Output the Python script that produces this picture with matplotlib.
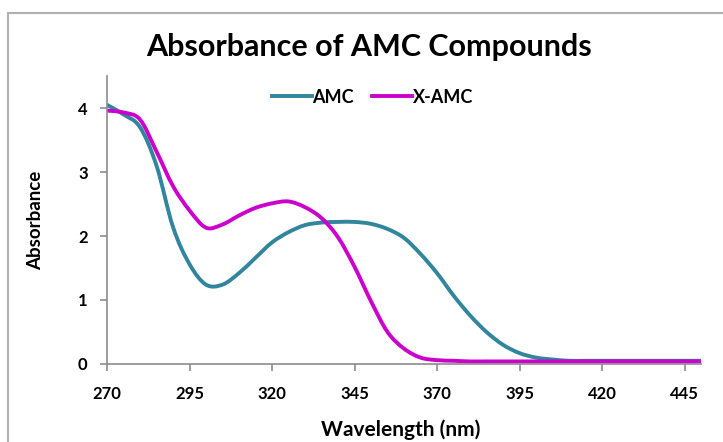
import numpy as np
import matplotlib.pyplot as plt
from matplotlib.patches import Rectangle, PathPatch
from matplotlib.path import Path
from matplotlib.lines import Line2D

plt.rcParams['font.family'] = ['Lato', 'DejaVu Sans']

# absorbance spectra, 5 nm steps
wavelength = np.arange(270, 455, 5)
amc = [4.05, 3.90, 3.70, 3.10, 2.14, 1.56, 1.24, 1.24, 1.42, 1.66,
       1.90, 2.06, 2.17, 2.21, 2.22, 2.22, 2.19, 2.11, 1.97, 1.72,
       1.42, 1.07, 0.76, 0.50, 0.30, 0.17, 0.10, 0.07, 0.05, 0.05,
       0.05, 0.05, 0.05, 0.05, 0.05, 0.05, 0.05]
x_amc = [3.96, 3.93, 3.82, 3.32, 2.78, 2.40, 2.13, 2.18, 2.32, 2.44,
         2.51, 2.54, 2.45, 2.28, 1.98, 1.52, 0.98, 0.50, 0.24, 0.10,
         0.06, 0.05, 0.04, 0.04, 0.04, 0.04, 0.04, 0.04, 0.04, 0.04,
         0.04, 0.04, 0.04, 0.04, 0.04, 0.04, 0.04]
xticks = [270, 295, 320, 345, 370, 395, 420, 445]
yticks = [0, 1, 2, 3, 4]

colors = {'AMC': '#31859c', 'X-AMC': '#cc00cc'}


def smooth_line(ax, x, y, color, lw):
    # smoothed line through the points (Catmull-Rom as cubic Bezier)
    p = np.column_stack([x, y]).astype(float)
    p = np.vstack([p[0], p, p[-1]])
    verts = [p[1]]
    codes = [Path.MOVETO]
    for i in range(1, len(p) - 2):
        c1 = p[i] + (p[i + 1] - p[i - 1]) / 6
        c2 = p[i + 1] - (p[i + 2] - p[i]) / 6
        verts += [c1, c2, p[i + 1]]
        codes += [Path.CURVE4] * 3
    patch = PathPatch(Path(verts, codes), fill=False, edgecolor=color, lw=lw,
                      capstyle='round', joinstyle='round')
    ax.add_patch(patch)


fig = plt.figure(figsize=(7.23, 4.42), dpi=100)
ax = fig.add_axes([0.148, 0.1765, 0.8216, 0.6515])

smooth_line(ax, wavelength, amc, colors['AMC'], 2.8)
smooth_line(ax, wavelength, x_amc, colors['X-AMC'], 2.8)

ax.set_xlim(270, 450)
ax.set_ylim(0, 4.5)
ax.set_xticks(xticks)
ax.set_yticks(yticks)

for s in ['top', 'right']:
    ax.spines[s].set_visible(False)
for s in ['left', 'bottom']:
    ax.spines[s].set_color('#8c8c8c')
    ax.spines[s].set_linewidth(1.2)

ax.tick_params(axis='both', colors='#8c8c8c', length=5, width=1.2,
               labelcolor='black', labelsize=12)
ax.tick_params(axis='x', pad=11)
ax.tick_params(axis='y', pad=9)
for lab in ax.get_xticklabels() + ax.get_yticklabels():
    lab.set_fontweight('bold')

ax.set_xlabel('Wavelength (nm)', fontsize=15, fontweight='bold', va='center')
ax.xaxis.set_label_coords(0.495, -0.229)
ax.set_ylabel('Absorbance', fontsize=13.5, fontweight='bold', va='center')
ax.yaxis.set_label_coords(-0.12, 0.5)

fig.text(0.511, 0.894, 'Absorbance of AMC Compounds', ha='center', va='center',
         fontsize=22, fontweight='bold')

handles = [Line2D([], [], color=colors[k], lw=2.8) for k in colors]
leg = ax.legend(handles, list(colors), loc='center', bbox_to_anchor=(0.447, 0.927),
                ncol=2, frameon=False, fontsize=13, handlelength=2.2,
                handletextpad=0.05, columnspacing=1.0)
for t in leg.get_texts():
    t.set_fontweight('bold')

# chart area border
fig.patches.append(Rectangle((8 / 723, -0.1), 1.1, 0.9706 + 0.1,
                             transform=fig.transFigure, fill=False,
                             edgecolor='#b0b0b0', lw=1.5))

fig.savefig('out.png', dpi=100)
